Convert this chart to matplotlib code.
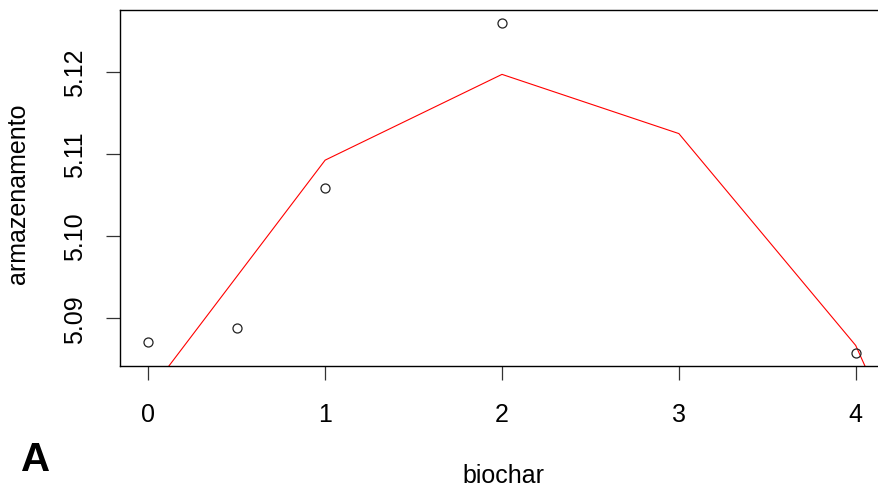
import matplotlib
matplotlib.use("Agg")
import matplotlib.pyplot as plt
from matplotlib.ticker import FormatStrFormatter

plt.rcParams['font.family'] = ['Liberation Sans', 'DejaVu Sans']

# observed points
biochar = [0, 0.5, 1, 2, 4]
armazenamento = [5.08716, 5.08886, 5.10587, 5.12590, 5.08581]

# fitted curve (red line)
fit_x = [0, 1, 2, 3, 4, 5]
fit_y = [5.0809, 5.10924, 5.11967, 5.11247, 5.0867, 5.0389]

x_ticks = [0, 1, 2, 3, 4]
y_ticks = [5.09, 5.10, 5.11, 5.12]

W, H = 879, 485
fig = plt.figure(figsize=(W / 100, H / 100), dpi=100)
left, right, top, bottom = 120, 884, 11, 367
ax = fig.add_axes([left / W, 1 - bottom / H, (right - left) / W, (bottom - top) / H])

ax.plot(fit_x, fit_y, color='red', linewidth=0.8, zorder=2)
ax.plot(biochar, armazenamento, linestyle='none', marker='o', markersize=6.5,
        markerfacecolor='none', markeredgecolor='#222222', markeredgewidth=0.9, zorder=3)

ax.set_xlim(-0.16, 4.16)
ax.set_ylim(5.0842, 5.1275)
ax.set_xticks(x_ticks)
ax.set_yticks(y_ticks)
ax.yaxis.set_major_formatter(FormatStrFormatter('%.2f'))

for s in ax.spines.values():
    s.set_linewidth(1.0)
    s.set_color('black')

ax.tick_params(axis='both', direction='out', length=10, width=0.9, color='#333333',
               labelsize=18, labelcolor='black')
ax.tick_params(axis='x', pad=16)
ax.tick_params(axis='y', pad=13.5, labelrotation=90)
for lbl in ax.get_yticklabels():
    lbl.set_va('center')

fig.text(503 / W, 1 - 483 / H, 'biochar', ha='center', va='baseline', fontsize=18)
fig.text(18 / W, 1 - 194 / H, 'armazenamento', ha='center', va='center',
         rotation=90, fontsize=18)
fig.text(21 / W, 1 - 471 / H, 'A', ha='left', va='baseline', fontsize=29,
         fontweight='bold')

fig.savefig('out.png', dpi=100)
